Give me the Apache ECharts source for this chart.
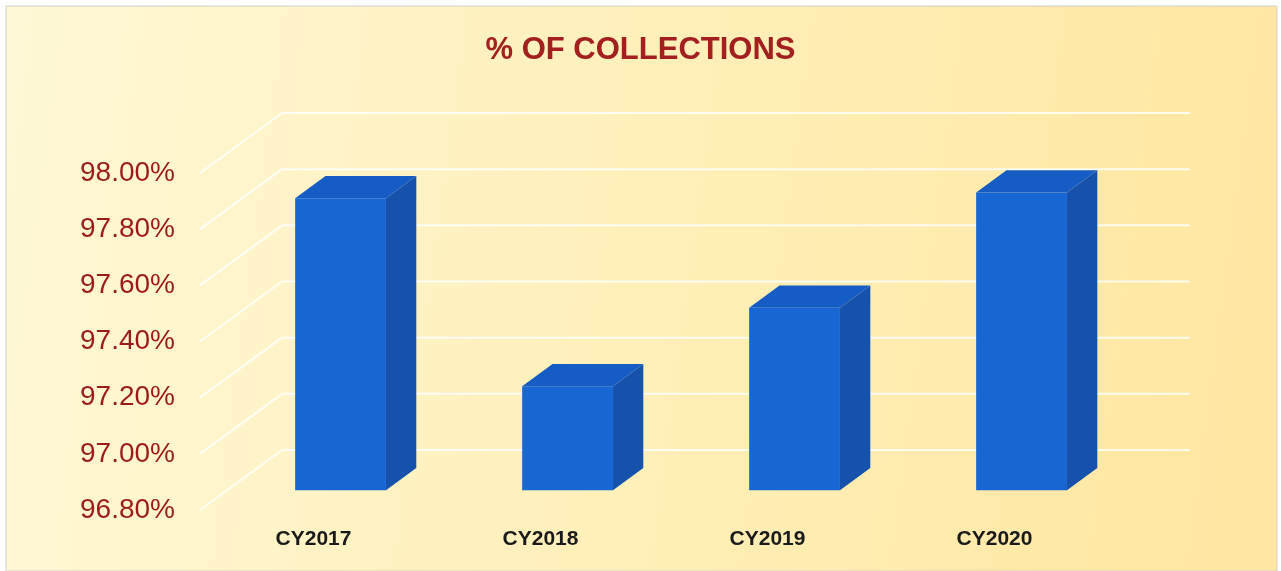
<!DOCTYPE html>
<html>
<head>
<meta charset="utf-8">
<script src="https://cdn.jsdelivr.net/npm/echarts@6/dist/echarts.min.js"></script>
<style>
  html, body { margin: 0; padding: 0; background: #fff; }
  #main { width: 1281px; height: 571px; }
</style>
</head>
<body>
<div id="main"></div>
<script>
// data
var categories = ['CY2017', 'CY2018', 'CY2019', 'CY2020'];
var collections = [97.84, 97.17, 97.45, 97.86];
var yTicks = [96.8, 97.0, 97.2, 97.4, 97.6, 97.8, 98.0];

var yMin = yTicks[0], yMax = yTicks[yTicks.length - 1];

// 3d look: depth of the walls and where the bars sit inside it
var DX = 82, DY = -60;
var barFront = 0.33, barBack = 0.70;

var myChart = echarts.init(document.getElementById('main'));

var option = {
    animation: false,
    graphic: [{
        type: 'rect',
        silent: true,
        z: -10,
        shape: { x: 6, y: 6, width: 1271, height: 565 },
        style: {
            fill: new echarts.graphic.LinearGradient(0, 0, 1, 0.3, [
                { offset: 0, color: '#FFF8D6' },
                { offset: 0.5, color: '#FFF0BA' },
                { offset: 1, color: '#FFE7A2' }
            ]),
            stroke: '#CFCFCF',
            lineWidth: 1
        }
    }],
    title: {
        text: '% OF COLLECTIONS',
        left: 'center',
        top: 30,
        textStyle: {
            fontFamily: '"Liberation Sans", sans-serif',
            fontSize: 31,
            fontWeight: 'bold',
            color: '#A3201F'
        }
    },
    grid: {
        left: 200,
        right: 173,
        top: 173,
        bottom: 61
    },
    xAxis: {
        type: 'category',
        data: categories,
        axisLine: { show: false },
        axisTick: { show: false },
        axisLabel: {
            margin: 19,
            fontFamily: '"Liberation Sans", sans-serif',
            fontSize: 21,
            fontWeight: 'bold',
            color: '#1A1A1A'
        }
    },
    yAxis: {
        type: 'value',
        min: yMin,
        max: yMax,
        interval: 0.2,
        axisLine: { show: false },
        axisTick: { show: false },
        splitLine: { show: false },
        axisLabel: {
            margin: 25,
            fontFamily: '"Liberation Sans", sans-serif',
            fontSize: 28,
            color: '#9E1B1B',
            formatter: function(v) { return v.toFixed(2) + '%'; }
        }
    },
    series: [{
        // walls: side diagonals + back gridlines
        type: 'custom',
        silent: true,
        z: 1,
        data: yTicks.map(function(v) { return [0, v]; }),
        renderItem: function(params, api) {
            var cs = params.coordSys;
            var py = api.coord([0, api.value(1)])[1];
            var st = { stroke: 'rgba(255,255,255,0.8)', lineWidth: 2 };
            return {
                type: 'group',
                children: [{
                    type: 'line',
                    shape: { x1: cs.x, y1: py, x2: cs.x + DX, y2: py + DY },
                    style: st
                }, {
                    type: 'line',
                    shape: { x1: cs.x + DX, y1: py + DY, x2: cs.x + cs.width + DX, y2: py + DY },
                    style: st
                }]
            };
        }
    }, {
        name: '% of collections',
        type: 'custom',
        z: 5,
        data: collections.map(function(v, i) { return [i, v]; }),
        renderItem: function(params, api) {
            var i = api.value(0);
            var top = api.coord([i, api.value(1)]);
            var base = api.coord([i, yMin]);
            var bw = api.size([1, 0])[0] * 0.4;
            var fx = barFront * DX, fy = barFront * DY;
            var dx = (barBack - barFront) * DX, dy = (barBack - barFront) * DY;
            var x0 = top[0] - bw / 2 + fx, x1 = x0 + bw;
            var yt = top[1] + fy, yb = base[1] + fy;
            return {
                type: 'group',
                children: [{
                    type: 'polygon',
                    shape: { points: [[x1, yt], [x1 + dx, yt + dy], [x1 + dx, yb + dy], [x1, yb]] },
                    style: { fill: '#1652AC' }
                }, {
                    type: 'polygon',
                    shape: { points: [[x0, yt], [x0 + dx, yt + dy], [x1 + dx, yt + dy], [x1, yt]] },
                    style: { fill: '#155CC4' }
                }, {
                    type: 'rect',
                    shape: { x: x0, y: yt, width: bw, height: yb - yt },
                    style: { fill: '#1766D3' }
                }]
            };
        }
    }]
};
myChart.setOption(option);
</script>
</body>
</html>
